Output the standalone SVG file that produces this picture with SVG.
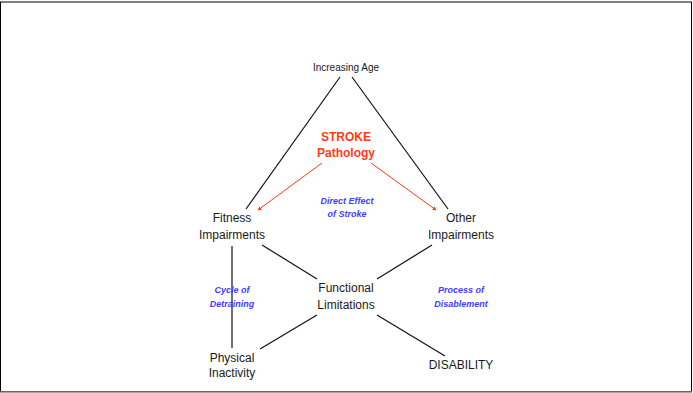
<svg xmlns="http://www.w3.org/2000/svg" width="693" height="393" viewBox="0 0 693 393">
<style>
.lbl{font-family:"Liberation Sans",Arial,sans-serif;font-size:12px;fill:#1a1a1a;text-anchor:middle}
.age{font-size:10px}
.red{font-family:"Liberation Sans",Arial,sans-serif;font-size:12px;font-weight:bold;fill:#ff3c14;text-anchor:middle}
.note{font-family:"Liberation Sans",Arial,sans-serif;font-size:9px;font-weight:bold;font-style:italic;fill:#4040ff;text-anchor:middle}
.ln{stroke:#111;stroke-width:1.2;fill:none}
.rl{stroke:#ff3c14;stroke-width:1;fill:none;marker-end:url(#ah)}
</style>
<defs>
<marker id="ah" viewBox="0 0 6 6" refX="5" refY="3" markerWidth="4" markerHeight="4" orient="auto" markerUnits="strokeWidth">
<path d="M0,0 L6,3 L0,6 z" fill="#ff3c14"/>
</marker>
</defs>
<rect x="0.5" y="2" width="691" height="389.5" fill="#fff" stroke="#000" stroke-width="1"/>
<line x1="0" y1="392" x2="692" y2="392" stroke="#888" stroke-width="1.5"/>
<g id="connectors">
<line class="ln" x1="340" y1="77" x2="246" y2="209"/>
<line class="ln" x1="352" y1="77" x2="448" y2="209"/>
<line class="rl" x1="322" y1="163" x2="258" y2="210"/>
<line class="rl" x1="371" y1="163" x2="436" y2="210"/>
<line class="ln" x1="262" y1="245" x2="317" y2="279"/>
<line class="ln" x1="432" y1="245" x2="377" y2="279"/>
<line class="ln" x1="317" y1="315" x2="260" y2="349"/>
<line class="ln" x1="377" y1="315" x2="445" y2="356"/>
<line class="ln" x1="232" y1="246" x2="232" y2="348"/>
</g>
<g id="age"><text class="lbl age" x="346" y="71">Increasing Age</text></g>
<g id="stroke"><text class="red" x="346" y="141">STROKE</text><text class="red" x="346" y="157">Pathology</text></g>
<g id="direct"><text class="note" x="347" y="204">Direct Effect</text><text class="note" x="347" y="217">of Stroke</text></g>
<g id="fitness"><text class="lbl" x="232" y="222">Fitness</text><text class="lbl" x="232" y="239">Impairments</text></g>
<g id="other"><text class="lbl" x="461" y="222">Other</text><text class="lbl" x="461" y="239">Impairments</text></g>
<g id="functional"><text class="lbl" x="346" y="292">Functional</text><text class="lbl" x="346" y="309">Limitations</text></g>
<g id="cycle"><text class="note" x="232" y="293">Cycle of</text><text class="note" x="232" y="307">Detraining</text></g>
<g id="process"><text class="note" x="461" y="293">Process of</text><text class="note" x="461" y="307">Disablement</text></g>
<g id="physical"><text class="lbl" x="232" y="362">Physical</text><text class="lbl" x="232" y="377">Inactivity</text></g>
<g id="disability"><text class="lbl" x="461" y="369">DISABILITY</text></g>
</svg>
